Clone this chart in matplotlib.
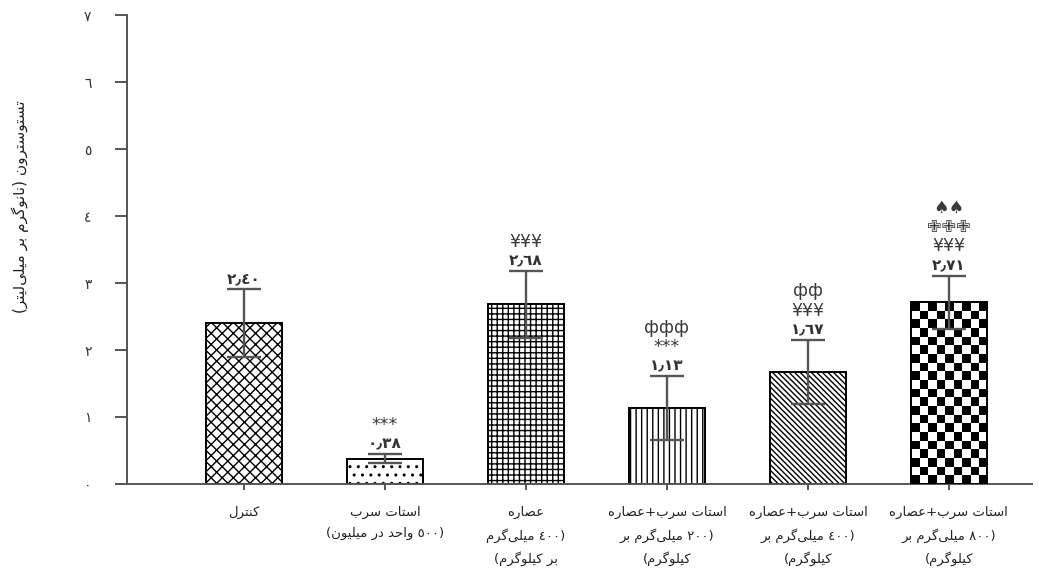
import numpy as np
import matplotlib.pyplot as plt

# testosterone (ng/ml) per treatment group, mean and error
groups = [
    "کنترل",
    "استات سرب\n(٥٠٠ واحد در میلیون)",
    "عصاره\n(٤٠٠ میلی‌گرم\nبر کیلوگرم)",
    "استات سرب+عصاره\n(٢٠٠ میلی‌گرم بر\nکیلوگرم)",
    "استات سرب+عصاره\n(٤٠٠ میلی‌گرم بر\nکیلوگرم)",
    "استات سرب+عصاره\n(٨٠٠ میلی‌گرم بر\nکیلوگرم)",
]
means = [2.40, 0.38, 2.68, 1.13, 1.67, 2.71]
errors = [0.51, 0.07, 0.50, 0.48, 0.48, 0.40]
signif = [[], ["***"], ["¥¥¥"], ["***", "ффф"], ["¥¥¥", "фф"], ["¥¥¥", "✙✙✙", "♠♠"]]
ylabel = "تستوسترون (نانوگرم بر میلی‌لیتر)"
yticks = [0, 1, 2, 3, 4, 5, 6, 7]

# presentation forms: isolated, final, initial, medial
FORMS = {
    "ا": ("\uFE8D", "\uFE8E", None, None),
    "ب": ("\uFE8F", "\uFE90", "\uFE91", "\uFE92"),
    "ت": ("\uFE95", "\uFE96", "\uFE97", "\uFE98"),
    "ح": ("\uFEA1", "\uFEA2", "\uFEA3", "\uFEA4"),
    "د": ("\uFEA9", "\uFEAA", None, None),
    "ر": ("\uFEAD", "\uFEAE", None, None),
    "س": ("\uFEB1", "\uFEB2", "\uFEB3", "\uFEB4"),
    "ص": ("\uFEB9", "\uFEBA", "\uFEBB", "\uFEBC"),
    "ع": ("\uFEC9", "\uFECA", "\uFECB", "\uFECC"),
    "ل": ("\uFEDD", "\uFEDE", "\uFEDF", "\uFEE0"),
    "م": ("\uFEE1", "\uFEE2", "\uFEE3", "\uFEE4"),
    "ن": ("\uFEE5", "\uFEE6", "\uFEE7", "\uFEE8"),
    "ه": ("\uFEE9", "\uFEEA", "\uFEEB", "\uFEEC"),
    "و": ("\uFEED", "\uFEEE", None, None),
    "ی": ("\uFBFC", "\uFBFD", "\uFEF3", "\uFEF4"),
    "ک": ("\uFB8E", "\uFB8F", "\uFB90", "\uFB91"),
    "گ": ("\uFB92", "\uFB93", "\uFB94", "\uFB95"),
}
DIGITS = "٠١٢٣٤٥٦٧٨٩"


def shape_line(line):
    out = []
    for i, c in enumerate(line):
        if c not in FORMS:
            if c != "\u200c":
                out.append(c)
            continue
        prev = line[i - 1] if i > 0 else ""
        nxt = line[i + 1] if i + 1 < len(line) else ""
        jp = prev in FORMS and FORMS[prev][2] is not None
        jn = FORMS[c][2] is not None and nxt in FORMS
        iso, fin, ini, med = FORMS[c]
        out.append(med if jp and jn else fin if jp else ini if jn else iso)
    vis = out[::-1]
    # digit runs keep left-to-right order, brackets get mirrored
    res, run = [], []
    for c in vis + [""]:
        if c and c in DIGITS + "٫":
            run.append(c)
            continue
        res.extend(run[::-1])
        run = []
        if c:
            res.append({"(": ")", ")": "("}.get(c, c))
    return "".join(res)


def rtl(text):
    return "\n".join(shape_line(l) for l in text.split("\n"))


def ar_num(v, nd=2):
    s = f"{v:.{nd}f}" if nd else str(v)
    return "".join(DIGITS[int(c)] if c.isdigit() else "٫" for c in s)


plt.rcParams["font.family"] = ["DejaVu Sans"]
plt.rcParams["hatch.linewidth"] = 1.0

fig = plt.figure(figsize=(10.39, 5.69), dpi=100)
ax = fig.add_axes([0.1222, 0.1494, 0.8711, 0.8242])

x = np.arange(len(means))
hatches = ["xxx", "..", "+++", "|||", "\\\\\\\\\\\\", None]
bars = ax.bar(x, means, width=0.54, color="white", edgecolor="black",
              linewidth=1.4, zorder=2)
for b, h in zip(bars, hatches):
    if h:
        b.set_hatch(h)

ax.set_xlim(-0.83, 5.59)
ax.set_ylim(0, 7)

# checkerboard fill for the last group
b = bars[-1]
nx = 9
px_w = ax.transData.transform((b.get_width(), 0))[0] - ax.transData.transform((0, 0))[0]
px_h = ax.transData.transform((0, b.get_height()))[1] - ax.transData.transform((0, 0))[1]
ny = int(round(nx * px_h / px_w))
board = np.indices((ny, nx)).sum(axis=0) % 2
im = ax.imshow(board, cmap="gray", interpolation="nearest", aspect="auto",
               extent=(b.get_x(), b.get_x() + b.get_width(), 0, b.get_height()),
               zorder=2.5)
im.set_clip_path(b)
ax.bar(x[-1:], means[-1:], width=0.54, color="none", edgecolor="black",
       linewidth=1.4, zorder=3)
ax.set_xlim(-0.83, 5.59)
ax.set_ylim(0, 7)

ax.errorbar(x, means, yerr=errors, fmt="none", ecolor="#555555",
            elinewidth=1.7, capsize=12.5, capthick=1.7, zorder=4)

for xi, m, e, marks in zip(x, means, errors, signif):
    top = m + e
    ax.annotate(ar_num(m), (xi, top), xytext=(0, 7), textcoords="offset points",
                ha="center", va="center", fontsize=11, fontweight="bold",
                color="#333333")
    for k, s in enumerate(marks):
        ax.annotate(s, (xi, top), xytext=(0, 7 + 14 * (k + 1)),
                    textcoords="offset points", ha="center", va="center",
                    fontsize=12.5, color="#3a3a3a")

ax.set_yticks(yticks)
ax.set_yticklabels([ar_num(t, 0) for t in yticks], fontsize=10, color="#333333")
ax.set_xticks(x)
ax.set_xticklabels([rtl(g) for g in groups], fontsize=9.5, color="#222222",
                   linespacing=1.75)
ax.tick_params(axis="y", length=8.5, width=1.4, color="#555555", pad=17)
ax.tick_params(axis="x", length=4, width=1.4, color="#555555", pad=12)

for side in ["top", "right"]:
    ax.spines[side].set_visible(False)
for side in ["left", "bottom"]:
    ax.spines[side].set_color("#555555")
    ax.spines[side].set_linewidth(1.4)

fig.text(20 / 1039, 1 - 207 / 569, rtl(ylabel), rotation=90, ha="center",
         va="center", fontsize=11, color="#222222")

fig.savefig("out.png", dpi=100)
